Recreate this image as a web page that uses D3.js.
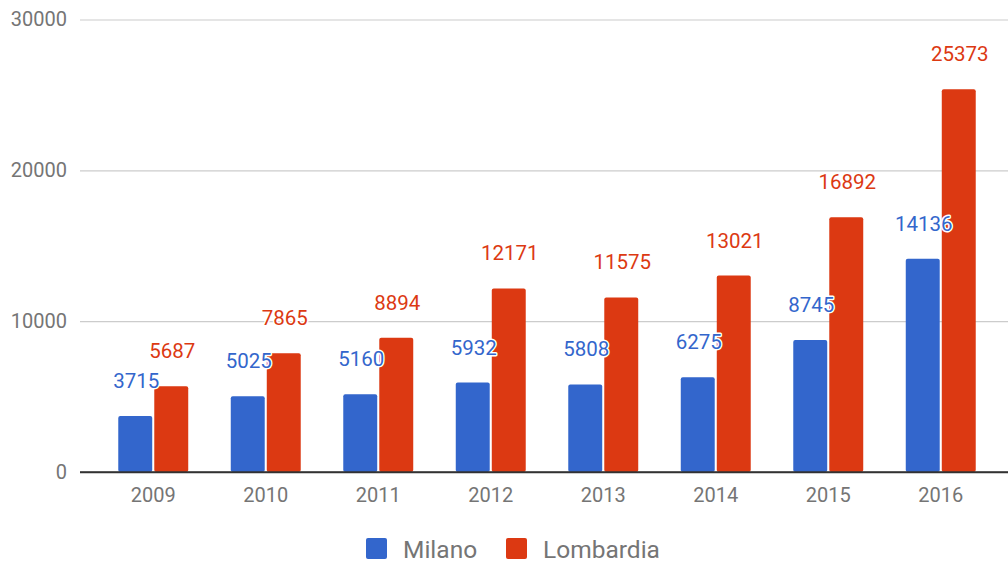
<!DOCTYPE html>
<html>
<head>
<meta charset="utf-8">
<script src="https://cdn.jsdelivr.net/npm/d3@7"></script>
<style>
  body { margin: 0; background: #fff; }
  svg { display: block; font-family: Roboto, "Noto Sans", Arial, sans-serif; }
</style>
</head>
<body>
<div id="chart"></div>
<script>
// Dati
const years = ["2009", "2010", "2011", "2012", "2013", "2014", "2015", "2016"];
const seriesNames = ["Milano", "Lombardia"];
const milano = [3715, 5025, 5160, 5932, 5808, 6275, 8745, 14136];
const lombardia = [5687, 7865, 8894, 12171, 11575, 13021, 16892, 25373];
const yTicks = [0, 10000, 20000, 30000];
const colors = ["#3366cc", "#dc3912"];

const width = 1008, height = 562;

const svg = d3.select("#chart")
    .append("svg")
    .attr("width", width)
    .attr("height", height);

// Scale
const x0 = d3.scaleBand()
    .domain(years)
    .range([97, 997])
    .paddingInner(0.378)
    .paddingOuter(0.189);

const x1 = d3.scaleBand()
    .domain(seriesNames)
    .range([0, x0.bandwidth()])
    .paddingInner(0.057);

const y = d3.scaleLinear()
    .domain([0, 30000])
    .range([472, 19.5]);

// Griglia + etichette asse Y
const yAxis = svg.append("g")
    .attr("transform", "translate(80,0)")
    .call(d3.axisLeft(y).tickValues(yTicks).tickSize(-928).tickPadding(13).tickFormat(d3.format("d")));
yAxis.select(".domain").remove();
yAxis.selectAll(".tick line")
    .attr("stroke", d => d === 0 ? "#333" : "#ccc")
    .attr("stroke-width", d => d === 0 ? 1.5 : 1.2);
yAxis.selectAll(".tick text")
    .attr("fill", "#757575")
    .style("font-size", "20px")
    .style("font-family", "Roboto, sans-serif");

// Barre
const rows = years.map((yr, i) => ({ year: yr, values: [milano[i], lombardia[i]] }));

const groups = svg.append("g")
    .selectAll("g")
    .data(rows)
    .join("g")
    .attr("transform", d => `translate(${x0(d.year)},0)`);

groups.selectAll("rect")
    .data(d => d.values.map((v, k) => ({ name: seriesNames[k], value: v, k: k })))
    .join("rect")
    .attr("x", d => x1(d.name))
    .attr("y", d => y(d.value))
    .attr("width", x1.bandwidth())
    .attr("height", d => y(0) - y(d.value))
    .attr("rx", 2)
    .attr("fill", d => colors[d.k]);

// riga asse zero sopra le barre
svg.append("line")
    .attr("x1", 80).attr("x2", 1008)
    .attr("y1", y(0)).attr("y2", y(0))
    .attr("stroke", "#333")
    .attr("stroke-width", 1.5);

// Etichette valori
groups.selectAll("text.val")
    .data(d => d.values.map((v, k) => ({ name: seriesNames[k], value: v, k: k })))
    .join("text")
    .attr("class", "val")
    .attr("x", d => x1(d.name) + x1.bandwidth() / 2 + 1)
    .attr("y", d => y(d.value) - 28)
    .attr("text-anchor", "middle")
    .style("font-size", "20.5px")
    .attr("fill", d => colors[d.k])
    .attr("stroke", "#fff")
    .attr("stroke-width", 3)
    .attr("stroke-linejoin", "round")
    .attr("paint-order", "stroke")
    .text(d => d.value);

// Asse X
const xAxis = svg.append("g")
    .attr("transform", `translate(0,${y(0)})`)
    .call(d3.axisBottom(x0).tickSize(0).tickPadding(16));
xAxis.select(".domain").remove();
xAxis.selectAll(".tick text")
    .attr("fill", "#757575")
    .style("font-size", "20px")
    .style("font-family", "Roboto, sans-serif");

// Legenda
const legendX = [366, 506];
seriesNames.forEach((name, i) => {
    svg.append("rect")
        .attr("x", legendX[i])
        .attr("y", 538)
        .attr("width", 21)
        .attr("height", 21)
        .attr("rx", 2)
        .attr("fill", colors[i]);
    svg.append("text")
        .attr("x", legendX[i] + 37)
        .attr("y", 557.5)
        .attr("fill", "#757575")
        .style("font-size", "24.5px")
        .text(name);
});
</script>
</body>
</html>
